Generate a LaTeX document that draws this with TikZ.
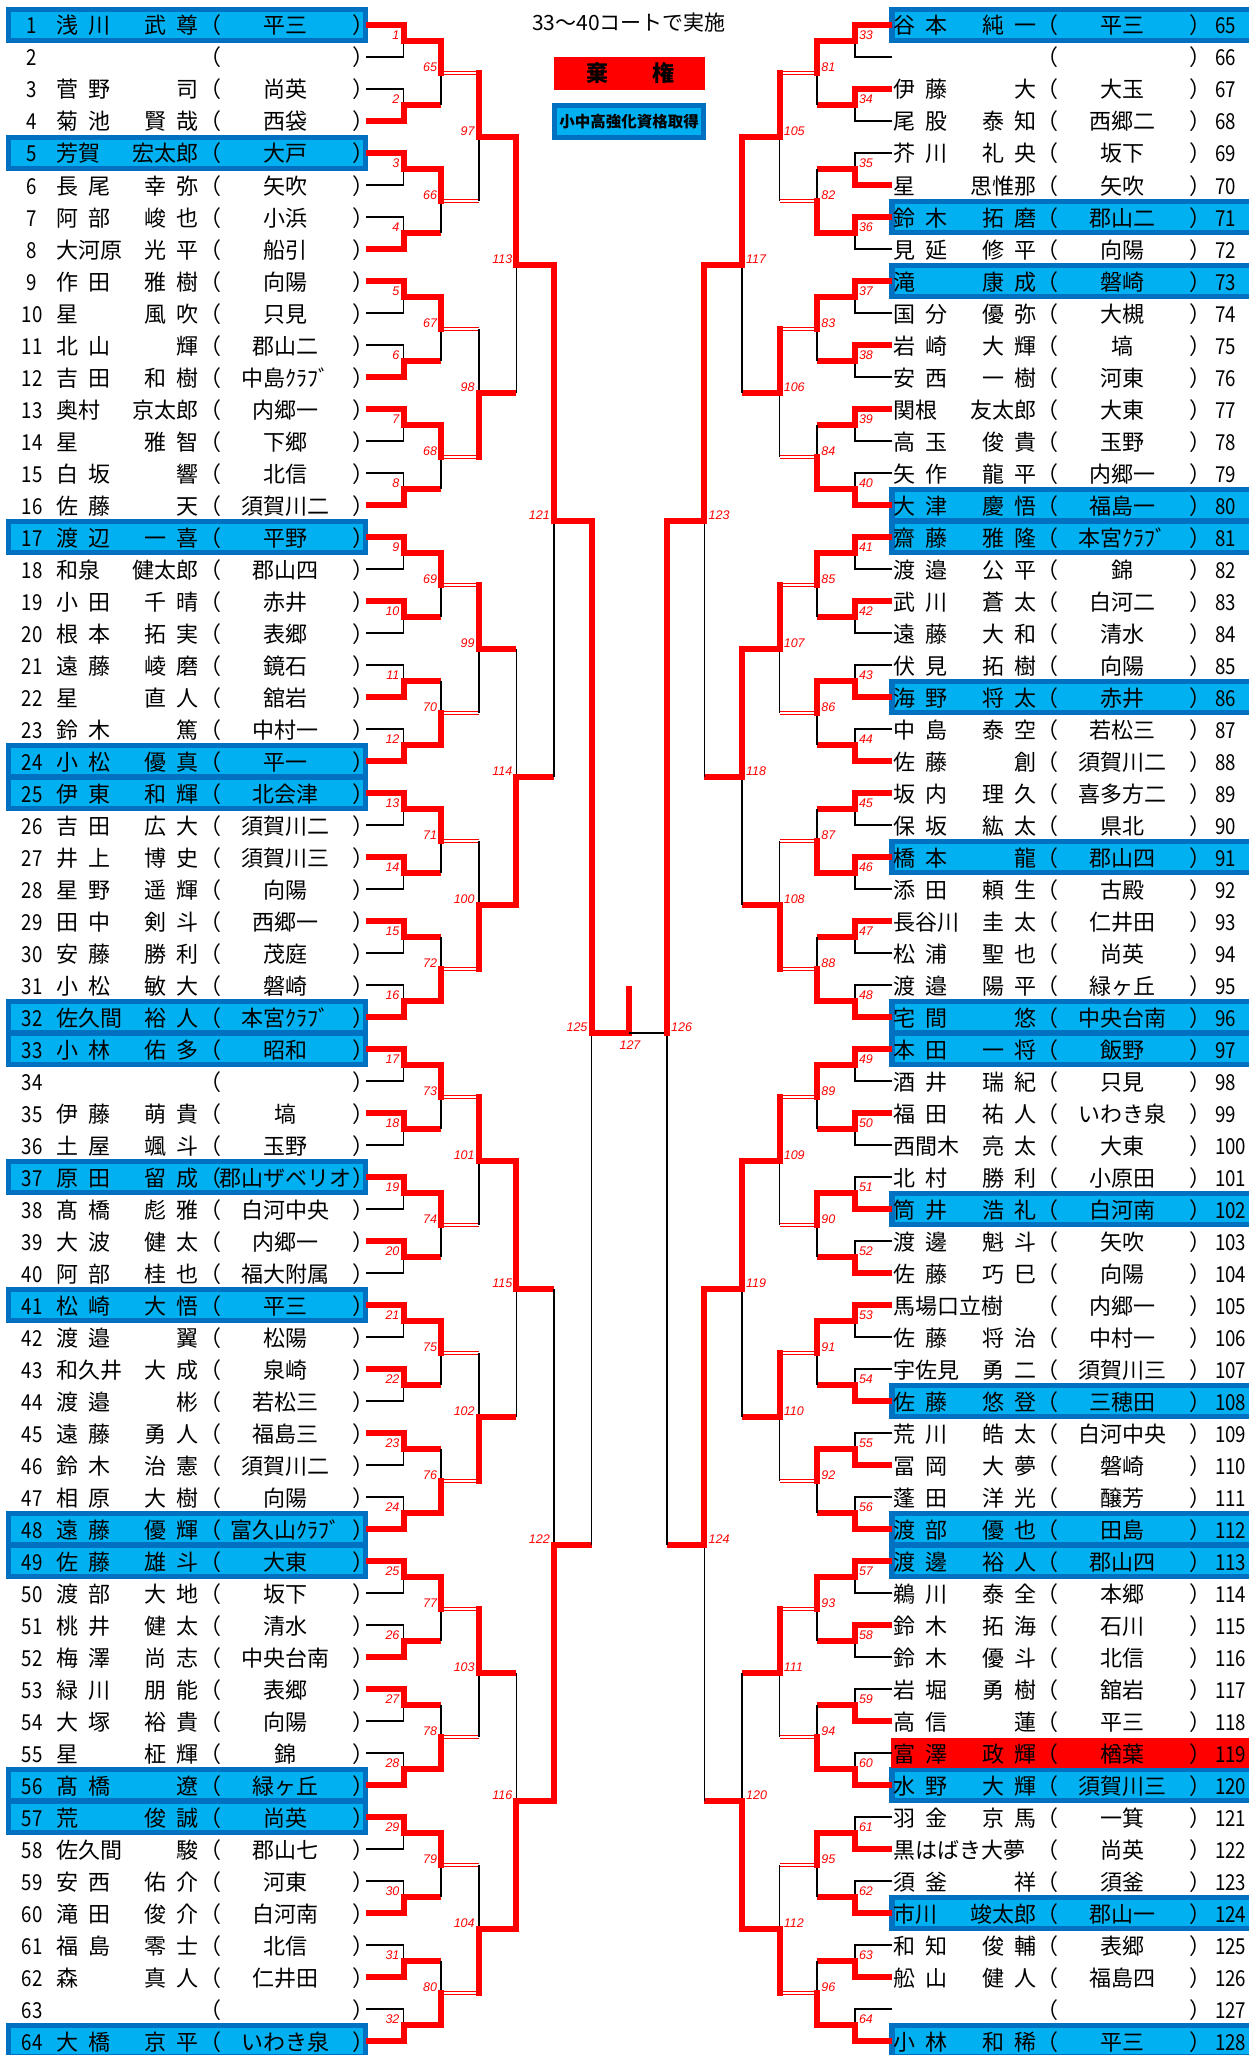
\documentclass[tikz,border=0pt]{standalone}
\usepackage{fontspec}
\setmainfont{Noto Sans CJK JP}
\newfontfamily\numf[FakeStretch=0.85]{Noto Sans CJK JP}
\newfontfamily\labf{Liberation Sans}
\definecolor{bdark}{HTML}{0070C0}
\definecolor{blight}{HTML}{00B0F0}
\newcommand\gp{\hspace{10pt}}
\tikzset{
 nm/.style={inner sep=0pt, font=\fontsize{22}{24}\selectfont},
 num/.style={inner sep=0pt, font=\numf\fontsize{22}{24}\selectfont},
 lbl/.style={inner sep=0pt, text=red, font=\labf\itshape\fontsize{12.5}{14}\selectfont},
 thk/.style={draw=red, line width=6pt, line join=miter},
 thinb/.style={draw=black, line width=1.6pt},
 dbl/.style={draw=red, line width=1.2pt},
}
% match: #1 side sign, #2 round, #3 index, #4 winner (0 top/1 bottom), #5 label offset
\newcommand\mt[5]{%
 \pgfmathsetmacro\qxp{629.2-#1*37.6*(8-#2)}%
 \pgfmathsetmacro\qxv{629.2-#1*37.6*(7-#2)}%
 \pgfmathsetmacro\qxn{629.2-#1*37.6*(6-#2)}%
 \pgfmathsetmacro\qyt{25+32*(2*#3-2)*2^(#2-1)+16*(2^(#2-1)-1)}%
 \pgfmathsetmacro\qyb{\qyt+32*2^(#2-1)}%
 \pgfmathsetmacro\qym{(\qyt+\qyb)/2}%
 \ifnum#4=0
   \let\qyw\qyt \let\qyl\qyb
   \pgfmathsetmacro\qys{\qyt-3}\pgfmathsetmacro\qye{\qym+3}%
 \else
   \let\qyw\qyb \let\qyl\qyt
   \pgfmathsetmacro\qys{\qyb+3}\pgfmathsetmacro\qye{\qym-3}%
 \fi
 \pgfmathtruncatemacro\qlb{#5+#3}%
 \ifnum#2=1
   \draw[thinb] (\qxp,\qyl) -- (\qxv,\qyl) -- (\qxv,\qym);
   \draw[thk] (\qxp,\qyw) -- (\qxv,\qyw) -- (\qxv,\qym) -- (\qxn,\qym);
 \else
   \draw[thinb] (\qxv,\qyl) -- (\qxv,\qym);
   \ifnum#2=2
     \draw[thk] (\qxv,\qys) -- (\qxv,\qye);
     \draw[dbl] (\qxv,\qym-1.8) -- (\qxn,\qym-1.8) (\qxv,\qym+1.8) -- (\qxn,\qym+1.8);
   \else
     \draw[thk] (\qxv,\qys) -- (\qxv,\qym) -- (\qxn,\qym);
   \fi
 \fi
 \ifnum#1=1 \node[lbl,anchor=east] (m\qlb) at (\qxv-4,\qym-6) {\qlb};
 \else \node[lbl,anchor=west] (m\qlb) at (\qxv+4,\qym-6) {\qlb};\fi
}
\newcommand\BL[1]{\pgfmathsetmacro\qc{25+32*(#1-1)}%
 \fill[bdark] (6,\qc-18) rectangle (368,\qc+18);
 \fill[blight] (11,\qc-13) rectangle (363,\qc+13);}
\newcommand\BR[1]{\pgfmathsetmacro\qc{25+32*(#1-65)}%
 \fill[bdark] (889,\qc-18) rectangle (1262,\qc+18);
 \fill[blight] (894.5,\qc-13) rectangle (1262,\qc+13);}
\newcommand\Lr[4]{\pgfmathsetmacro\qy{34+32*(#1-1)}%
 \node[num,anchor=base] (n#1) at (32,\qy) {#1};
 \node[nm,anchor=base west] (f#1) at (56,\qy) {#2};
 \node[nm,anchor=base east] (g#1) at (199,\qy) {#3};
 \node[nm,anchor=base west] (o#1) at (199,\qy) {（};
 \node[nm,anchor=base] (s#1) at (285,\qy) {#4};
 \node[nm,anchor=base west] (c#1) at (352,\qy) {）};}
\newcommand\Rr[4]{\pgfmathsetmacro\qy{34+32*(#1-65)}%
 \node[num,anchor=base west] (n#1) at (1215,\qy) {#1};
 \node[nm,anchor=base west] (f#1) at (893.5,\qy) {#2};
 \node[nm,anchor=base east] (g#1) at (1036.5,\qy) {#3};
 \node[nm,anchor=base west] (o#1) at (1036.5,\qy) {（};
 \node[nm,anchor=base] (s#1) at (1122.5,\qy) {#4};
 \node[nm,anchor=base west] (c#1) at (1189.5,\qy) {）};}
\begin{document}
\begin{tikzpicture}[x=1pt,y=-1pt]
\useasboundingbox (0,0) rectangle (1249,2055);
\fill[white] (0,0) rectangle (1249,2055);
% highlight boxes
\foreach \k in {1,5,17,24,25,32,33,37,41,48,49,56,57,64} {\BL{\k}}
\foreach \k in {65,71,73,80,81,86,91,96,97,102,108,112,113,120,124,128} {\BR{\k}}
\fill[red] (891,1753-15) rectangle (1262,1753+15);
% title and legend
\node[inner sep=0pt,font=\fontsize{21}{24}\selectfont] (title) at (629,23) {33～40コートで実施};
\fill[red] (554,57) rectangle (705,90);
\node[inner sep=0pt,font=\bfseries\fontsize{22}{24}\selectfont] (k1) at (597,73.5) {棄};
\node[inner sep=0pt,font=\bfseries\fontsize{22}{24}\selectfont] (k2) at (663,73.5) {権};
\fill[bdark] (552,103) rectangle (706,140);
\fill[blight] (557,108) rectangle (701,135);
\node[inner sep=0pt,font=\bfseries\fontsize{15.5}{17}\selectfont] (leg) at (629,121.5) {小中高強化資格取得};
% left bracket
\foreach \w [count=\i] in {0,1,0,1,0,1,0,1,0,0,1,1,0,0,0,1,0,0,0,0,0,0,0,1,0,1,0,1,0,1,1,1} {\mt{1}{1}{\i}{\w}{0}}
\foreach \w [count=\i] in {0,0,0,0,0,1,0,1,0,0,0,1,0,1,0,1} {\mt{1}{2}{\i}{\w}{64}}
\foreach \w [count=\i] in {0,1,0,1,0,1,0,1} {\mt{1}{3}{\i}{\w}{96}}
\foreach \w [count=\i] in {0,1,0,1} {\mt{1}{4}{\i}{\w}{112}}
\foreach \w [count=\i] in {0,1} {\mt{1}{5}{\i}{\w}{120}}
% right bracket
\foreach \w [count=\i] in {0,0,1,0,0,0,0,1,0,0,1,1,0,0,0,1,0,0,1,1,0,1,1,1,0,0,1,1,1,1,1,1} {\mt{-1}{1}{\i}{\w}{32}}
\foreach \w [count=\i] in {0,1,0,1,0,0,1,1,0,0,0,0,0,1,0,1} {\mt{-1}{2}{\i}{\w}{80}}
\foreach \w [count=\i] in {0,0,0,1,0,0,0,1} {\mt{-1}{3}{\i}{\w}{104}}
\foreach \w [count=\i] in {0,0,0,1} {\mt{-1}{4}{\i}{\w}{116}}
\foreach \w [count=\i] in {0,0} {\mt{-1}{5}{\i}{\w}{122}}
% semifinals and final
\draw[thinb] (591.6,1033) -- (591.6,1545);
\draw[thk] (591.6,518) -- (591.6,1033) -- (629.2,1033) -- (629.2,986);
\draw[thinb] (629.2,1033) -- (666.8,1033) -- (666.8,1545);
\draw[thk] (666.8,518) -- (666.8,1036);
\node[lbl,anchor=east] (m125) at (587.6,1027) {125};
\node[lbl,anchor=west] (m126) at (671,1027) {126};
\node[lbl] (m127) at (630,1045) {127};
% left rows
\Lr{1}{浅\gp{}川}{武\gp{}尊}{平三}
\Lr{2}{}{}{}
\Lr{3}{菅\gp{}野}{司}{尚英}
\Lr{4}{菊\gp{}池}{賢\gp{}哉}{西袋}
\Lr{5}{芳賀}{宏太郎}{大戸}
\Lr{6}{長\gp{}尾}{幸\gp{}弥}{矢吹}
\Lr{7}{阿\gp{}部}{峻\gp{}也}{小浜}
\Lr{8}{大河原}{光\gp{}平}{船引}
\Lr{9}{作\gp{}田}{雅\gp{}樹}{向陽}
\Lr{10}{星}{風\gp{}吹}{只見}
\Lr{11}{北\gp{}山}{輝}{郡山二}
\Lr{12}{吉\gp{}田}{和\gp{}樹}{中島ｸﾗﾌﾞ}
\Lr{13}{奥村}{京太郎}{内郷一}
\Lr{14}{星}{雅\gp{}智}{下郷}
\Lr{15}{白\gp{}坂}{響}{北信}
\Lr{16}{佐\gp{}藤}{天}{須賀川二}
\Lr{17}{渡\gp{}辺}{一\gp{}喜}{平野}
\Lr{18}{和泉}{健太郎}{郡山四}
\Lr{19}{小\gp{}田}{千\gp{}晴}{赤井}
\Lr{20}{根\gp{}本}{拓\gp{}実}{表郷}
\Lr{21}{遠\gp{}藤}{崚\gp{}磨}{鏡石}
\Lr{22}{星}{直\gp{}人}{舘岩}
\Lr{23}{鈴\gp{}木}{篤}{中村一}
\Lr{24}{小\gp{}松}{優\gp{}真}{平一}
\Lr{25}{伊\gp{}東}{和\gp{}輝}{北会津}
\Lr{26}{吉\gp{}田}{広\gp{}大}{須賀川二}
\Lr{27}{井\gp{}上}{博\gp{}史}{須賀川三}
\Lr{28}{星\gp{}野}{遥\gp{}輝}{向陽}
\Lr{29}{田\gp{}中}{剣\gp{}斗}{西郷一}
\Lr{30}{安\gp{}藤}{勝\gp{}利}{茂庭}
\Lr{31}{小\gp{}松}{敏\gp{}大}{磐崎}
\Lr{32}{佐久間}{裕\gp{}人}{本宮ｸﾗﾌﾞ}
\Lr{33}{小\gp{}林}{佑\gp{}多}{昭和}
\Lr{34}{}{}{}
\Lr{35}{伊\gp{}藤}{萌\gp{}貴}{塙}
\Lr{36}{土\gp{}屋}{颯\gp{}斗}{玉野}
\Lr{37}{原\gp{}田}{留\gp{}成}{郡山ザベリオ}
\Lr{38}{髙\gp{}橋}{彪\gp{}雅}{白河中央}
\Lr{39}{大\gp{}波}{健\gp{}太}{内郷一}
\Lr{40}{阿\gp{}部}{桂\gp{}也}{福大附属}
\Lr{41}{松\gp{}崎}{大\gp{}悟}{平三}
\Lr{42}{渡\gp{}邉}{翼}{松陽}
\Lr{43}{和久井}{大\gp{}成}{泉崎}
\Lr{44}{渡\gp{}邉}{彬}{若松三}
\Lr{45}{遠\gp{}藤}{勇\gp{}人}{福島三}
\Lr{46}{鈴\gp{}木}{治\gp{}憲}{須賀川二}
\Lr{47}{相\gp{}原}{大\gp{}樹}{向陽}
\Lr{48}{遠\gp{}藤}{優\gp{}輝}{富久山ｸﾗﾌﾞ}
\Lr{49}{佐\gp{}藤}{雄\gp{}斗}{大東}
\Lr{50}{渡\gp{}部}{大\gp{}地}{坂下}
\Lr{51}{桃\gp{}井}{健\gp{}太}{清水}
\Lr{52}{梅\gp{}澤}{尚\gp{}志}{中央台南}
\Lr{53}{緑\gp{}川}{朋\gp{}能}{表郷}
\Lr{54}{大\gp{}塚}{裕\gp{}貴}{向陽}
\Lr{55}{星}{柾\gp{}輝}{錦}
\Lr{56}{髙\gp{}橋}{遼}{緑ヶ丘}
\Lr{57}{荒}{俊\gp{}誠}{尚英}
\Lr{58}{佐久間}{駿}{郡山七}
\Lr{59}{安\gp{}西}{佑\gp{}介}{河東}
\Lr{60}{滝\gp{}田}{俊\gp{}介}{白河南}
\Lr{61}{福\gp{}島}{零\gp{}士}{北信}
\Lr{62}{森}{真\gp{}人}{仁井田}
\Lr{63}{}{}{}
\Lr{64}{大\gp{}橋}{京\gp{}平}{いわき泉}
% right rows
\Rr{65}{谷\gp{}本}{純\gp{}一}{平三}
\Rr{66}{}{}{}
\Rr{67}{伊\gp{}藤}{大}{大玉}
\Rr{68}{尾\gp{}股}{泰\gp{}知}{西郷二}
\Rr{69}{芥\gp{}川}{礼\gp{}央}{坂下}
\Rr{70}{星}{思惟那}{矢吹}
\Rr{71}{鈴\gp{}木}{拓\gp{}磨}{郡山二}
\Rr{72}{見\gp{}延}{修\gp{}平}{向陽}
\Rr{73}{滝}{康\gp{}成}{磐崎}
\Rr{74}{国\gp{}分}{優\gp{}弥}{大槻}
\Rr{75}{岩\gp{}崎}{大\gp{}輝}{塙}
\Rr{76}{安\gp{}西}{一\gp{}樹}{河東}
\Rr{77}{関根}{友太郎}{大東}
\Rr{78}{高\gp{}玉}{俊\gp{}貴}{玉野}
\Rr{79}{矢\gp{}作}{龍\gp{}平}{内郷一}
\Rr{80}{大\gp{}津}{慶\gp{}悟}{福島一}
\Rr{81}{齋\gp{}藤}{雅\gp{}隆}{本宮ｸﾗﾌﾞ}
\Rr{82}{渡\gp{}邉}{公\gp{}平}{錦}
\Rr{83}{武\gp{}川}{蒼\gp{}太}{白河二}
\Rr{84}{遠\gp{}藤}{大\gp{}和}{清水}
\Rr{85}{伏\gp{}見}{拓\gp{}樹}{向陽}
\Rr{86}{海\gp{}野}{将\gp{}太}{赤井}
\Rr{87}{中\gp{}島}{泰\gp{}空}{若松三}
\Rr{88}{佐\gp{}藤}{創}{須賀川二}
\Rr{89}{坂\gp{}内}{理\gp{}久}{喜多方二}
\Rr{90}{保\gp{}坂}{紘\gp{}太}{県北}
\Rr{91}{橋\gp{}本}{龍}{郡山四}
\Rr{92}{添\gp{}田}{頼\gp{}生}{古殿}
\Rr{93}{長谷川}{圭\gp{}太}{仁井田}
\Rr{94}{松\gp{}浦}{聖\gp{}也}{尚英}
\Rr{95}{渡\gp{}邉}{陽\gp{}平}{緑ヶ丘}
\Rr{96}{宅\gp{}間}{悠}{中央台南}
\Rr{97}{本\gp{}田}{一\gp{}将}{飯野}
\Rr{98}{酒\gp{}井}{瑞\gp{}紀}{只見}
\Rr{99}{福\gp{}田}{祐\gp{}人}{いわき泉}
\Rr{100}{西間木}{亮\gp{}太}{大東}
\Rr{101}{北\gp{}村}{勝\gp{}利}{小原田}
\Rr{102}{筒\gp{}井}{浩\gp{}礼}{白河南}
\Rr{103}{渡\gp{}邊}{魁\gp{}斗}{矢吹}
\Rr{104}{佐\gp{}藤}{巧\gp{}巳}{向陽}
\Rr{105}{馬場口立樹}{}{内郷一}
\Rr{106}{佐\gp{}藤}{将\gp{}治}{中村一}
\Rr{107}{宇佐見}{勇\gp{}二}{須賀川三}
\Rr{108}{佐\gp{}藤}{悠\gp{}登}{三穂田}
\Rr{109}{荒\gp{}川}{皓\gp{}太}{白河中央}
\Rr{110}{冨\gp{}岡}{大\gp{}夢}{磐崎}
\Rr{111}{蓬\gp{}田}{洋\gp{}光}{醸芳}
\Rr{112}{渡\gp{}部}{優\gp{}也}{田島}
\Rr{113}{渡\gp{}邊}{裕\gp{}人}{郡山四}
\Rr{114}{鵜\gp{}川}{泰\gp{}全}{本郷}
\Rr{115}{鈴\gp{}木}{拓\gp{}海}{石川}
\Rr{116}{鈴\gp{}木}{優\gp{}斗}{北信}
\Rr{117}{岩\gp{}堀}{勇\gp{}樹}{舘岩}
\Rr{118}{高\gp{}信}{蓮}{平三}
\Rr{119}{富\gp{}澤}{政\gp{}輝}{楢葉}
\Rr{120}{水\gp{}野}{大\gp{}輝}{須賀川三}
\Rr{121}{羽\gp{}金}{京\gp{}馬}{一箕}
\Rr{122}{黒はばき大夢}{}{尚英}
\Rr{123}{須\gp{}釜}{祥}{須釜}
\Rr{124}{市川}{竣太郎}{郡山一}
\Rr{125}{和\gp{}知}{俊\gp{}輔}{表郷}
\Rr{126}{舩\gp{}山}{健\gp{}人}{福島四}
\Rr{127}{}{}{}
\Rr{128}{小\gp{}林}{和\gp{}稀}{平三}
\end{tikzpicture}
\end{document}
